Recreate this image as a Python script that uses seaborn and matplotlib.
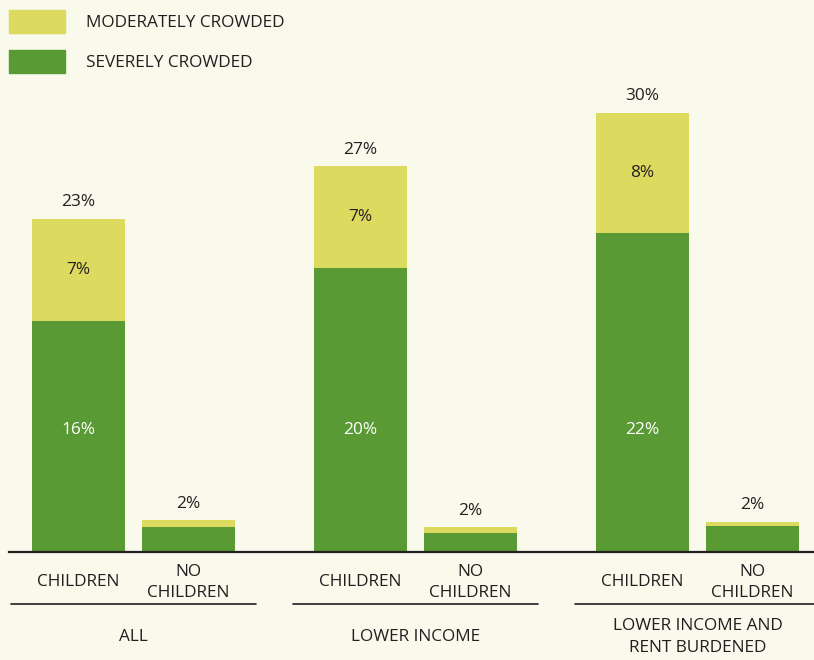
# crowding by household type - stacked bars (severe + moderate)
import numpy as np
import pandas as pd
import matplotlib
matplotlib.use("Agg")
import matplotlib.pyplot as plt
import matplotlib.transforms as mtransforms
from matplotlib.patches import Patch
import seaborn as sns

# data
groups = ["ALL", "LOWER INCOME", "LOWER INCOME AND\nRENT BURDENED"]
households = ["CHILDREN", "NO\nCHILDREN"]
severe = [15.9, 1.7, 19.6, 1.3, 22, 1.8]
moderate = [7.1, 0.5, 7.0, 0.4, 8.3, 0.3]
total_labels = ["23%", "2%", "27%", "2%", "30%", "2%"]
severe_labels = ["16%", "", "20%", "", "22%", ""]
moderate_labels = ["7%", "", "7%", "", "8%", ""]

df = pd.DataFrame({
    "group": np.repeat(groups, len(households)),
    "household": households * len(groups),
    "severe": severe,
    "moderate": moderate,
})
df["total"] = df["severe"] + df["moderate"]

bg = "#f9f9ec"
yellow = "#dcda5f"
green = "#5a9a35"
dark = "#231f20"
FS = 12.4

sns.set_style("white")
plt.rcParams["font.family"] = ["Open Sans", "DejaVu Sans"]
plt.rcParams["font.size"] = FS

fig = plt.figure(figsize=(8.14, 6.6), dpi=100, facecolor=bg)
ax = fig.add_axes([9 / 814, 108 / 660, 805 / 814, 452 / 660])
ax.set_facecolor(bg)

# total (yellow) first, then severe (green) on top of it
sns.barplot(data=df, x="group", y="total", hue="household", palette=[yellow, yellow],
            width=0.78, gap=0.155, saturation=1, linewidth=0, errorbar=None,
            legend=False, ax=ax)
n = len(ax.patches)
sns.barplot(data=df, x="group", y="severe", hue="household", palette=[green, green],
            width=0.78, gap=0.155, saturation=1, linewidth=0, errorbar=None,
            legend=False, ax=ax)

ax.set_xlim(-0.4415, 2.413)
ax.set_ylim(0, 452 / 14.5)
ax.set_xticks([])
ax.set_yticks([])
ax.set_xlabel("")
ax.set_ylabel("")
for s in ["left", "right", "top"]:
    ax.spines[s].set_visible(False)
ax.spines["bottom"].set_color(dark)
ax.spines["bottom"].set_linewidth(1.6)

# bar centres from the drawn patches, in data order
tot_bars = sorted([p for p in ax.patches[:n] if p.get_height() > 0], key=lambda p: p.get_x())
centers = [p.get_x() + p.get_width() / 2 for p in tot_bars]

trans = mtransforms.blended_transform_factory(ax.transData, ax.transAxes)
for i, cx in enumerate(centers):
    ax.annotate(total_labels[i], (cx, df["total"][i]), xytext=(0, 6),
                textcoords="offset points", ha="center", va="bottom", color=dark)
    if moderate_labels[i]:
        ax.text(cx, df["severe"][i] + df["moderate"][i] / 2, moderate_labels[i],
                ha="center", va="center", color=dark)
    if severe_labels[i]:
        ax.text(cx, 8.4, severe_labels[i], ha="center", va="center", color="white")
    ax.text(cx, -0.067, households[i % 2], transform=trans, ha="center", va="center",
            color=dark, linespacing=1.45)

for g, name in enumerate(groups):
    ax.plot([g - 0.435, g + 0.435], [-0.115, -0.115], transform=trans, color=dark,
            lw=1.2, clip_on=False)
    ax.text(g, -0.188, name, transform=trans, ha="center", va="center", color=dark,
            linespacing=1.45)

handles = [Patch(color=yellow, label="MODERATELY CROWDED"),
           Patch(color=green, label="SEVERELY CROWDED")]
fs = FS * 100 / 72
fig.legend(handles=handles, loc="upper left", bbox_to_anchor=(9 / 814, 1 - 10 / 660),
           frameon=False, borderpad=0, borderaxespad=0, handlelength=56 / fs,
           handleheight=29 / fs, handletextpad=21 / fs, labelspacing=17 / fs,
           labelcolor=dark)

fig.savefig("out.png", dpi=100, facecolor=bg)
